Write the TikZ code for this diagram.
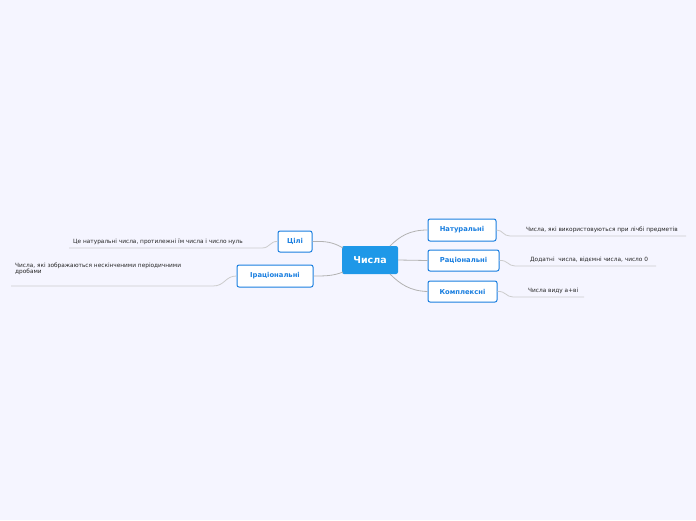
\documentclass[tikz,border=0pt]{standalone}
\usepackage{fontspec}
\setmainfont{DejaVu Sans}
\definecolor{mblue}{HTML}{1A7FE0}
\definecolor{cblue}{HTML}{1E98E8}
\begin{document}
\begin{tikzpicture}[x=1pt,y=-1pt,
 child/.style={draw=mblue,line width=1pt,fill=white,rounded corners=2pt,font=\bfseries\fontsize{6.8}{7}\selectfont,text=mblue,inner sep=0pt},
 leaf/.style={font=\fontsize{5.8}{6.5}\selectfont,text=black!85,inner sep=0pt,anchor=base west,align=left},
 con/.style={draw=black!30,line width=0.8pt},
 ul/.style={draw=black!20,line width=0.8pt}]
\fill[blue!4] (0,0) rectangle (696,520);
\useasboundingbox (0,0) rectangle (696,520);
\node[fill=cblue,rounded corners=2pt,minimum width=56pt,minimum height=28pt,text=white,font=\bfseries\fontsize{9.5}{10}\selectfont] (c) at (370,260) {Числа};
\node[child,minimum width=68pt,minimum height=22pt] (n) at (462,230) {Натуральні};
\node[child,minimum width=71pt,minimum height=21pt] (r) at (463.5,260.5) {Раціональні};
\node[child,minimum width=69pt,minimum height=21pt] (k) at (462.5,291.5) {Комплексні};
\node[child,minimum width=34pt,minimum height=21pt] (z) at (295,241.5) {Цілі};
\node[child,minimum width=76pt,minimum height=22pt] (i) at (275,276) {Іраціональні};
\draw[con] (390,246) .. controls (400,236) and (410,230) .. (n.west);
\draw[con] (c.east) -- (r.west);
\draw[con] (390,274) .. controls (400,284) and (410,291) .. (k.west);
\draw[con] (343,248) .. controls (333,242) and (325,241) .. (z.east);
\draw[con] (343,272) .. controls (333,276) and (325,276) .. (i.east);
\coordinate (n1) at (510,236); \coordinate (n2) at (686,236);
\coordinate (r1) at (515,266); \coordinate (r2) at (656,266);
\coordinate (k1) at (513,297); \coordinate (k2) at (584,297);
\coordinate (z1) at (262,248); \coordinate (z2) at (69,248);
\coordinate (i1) at (213,286); \coordinate (i2) at (11,286);
\draw[ul] (n.east) .. controls (503,230) and (503,236) .. (n1) -- (n2);
\draw[ul] (r.east) .. controls (508,260) and (508,266) .. (r1) -- (r2);
\draw[ul] (k.east) .. controls (506,291) and (506,297) .. (k1) -- (k2);
\draw[ul] (z.west) .. controls (270,241) and (270,248) .. (z1) -- (z2);
\draw[ul] (i.west) .. controls (225,276) and (225,286) .. (i1) -- (i2);
\node[leaf] (tn) at (526,231) {Числа, які використовуються при лічбі предметів};
\node[leaf] (tr) at (530,261.5) {Додатні\ \ числа, відємні числа, число 0};
\node[leaf] (tk) at (528,292.5) {Числа виду а+ві};
\node[leaf] (tz) at (73,243.5) {Це натуральні числа, протилежні їм числа і число нуль};
\node[leaf] (ti) at (15,273.5) {Числа, які зображаються нескінченими періодичними\\[-0.5pt]дробами};
\end{tikzpicture}
\end{document}
